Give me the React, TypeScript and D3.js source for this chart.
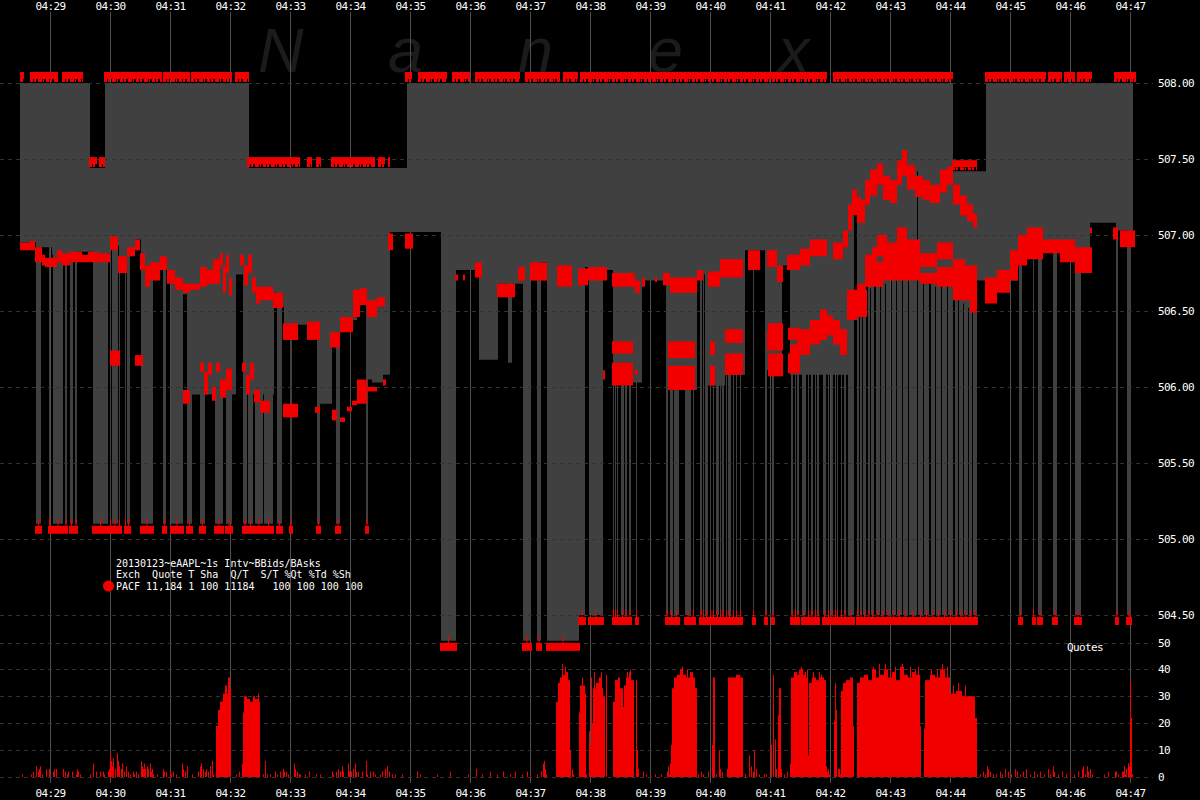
import React from 'react';
import * as d3 from 'd3';

// Time unit: seconds after 04:28:00
const minuteLabels = ['04:29','04:30','04:31','04:32','04:33','04:34','04:35','04:36','04:37','04:38','04:39','04:40','04:41','04:42','04:43','04:44','04:45','04:46','04:47'];
const priceTicks = [508.0, 507.5, 507.0, 506.5, 506.0, 505.5, 505.0, 504.5];
const quoteTicks = [0, 10, 20, 30, 40, 50];

// best ask steps [startSec, price]
const askSteps: [number, number][] = [[30,508.00],[100,507.44],[115,508.00],[259,507.44],[417,508.00],[963,507.42],[996,508.00]];

// best bid (base level) steps [startSec, price]
const bidLine: [number, number][] = [
[30,506.95],[46,506.98],[51,506.92],[62,506.87],[87,506.89],[118,506.88],[120,506.93],[129,506.82],[137,506.89],[145,506.97],[151,506.84],[163,506.77],[170,506.82],[177,506.74],[193,506.61],[197,505.95],[246,506.74],[253,505.95],[284,506.62],[287,506.53],[294,506.41],[330,505.89],[342,506.33],[350,506.38],[360,506.44],[367,506.57],[376,506.05],[382,506.03],[393,506.08],[400,507.02],[466,506.77],[489,506.18],[508,506.68],[518,506.16],[522,506.68],[533,506.79],[551,506.82],[595,506.79],[613,506.77],[623,506.03],[652,506.70],[678,505.98],[707,506.74],[718,506.01],[735,506.08],[755,506.90],[777,506.11],[792,506.80],[800,506.08],[860,504.50],[987,506.70],[1028,507.00],[1050,506.90],[1067,506.93],[1091,506.88],[1100,507.08],[1128,507.03],[1141,507.00]
];

// short bid drops [startSec, endSec, price]
const bidDips: [number, number, number][] = [
[46,51,505.10],[59,60,505.10],[63,73,505.10],[75,77,505.10],[80,83,505.10],[85,87,505.10],[103,118,505.10],[120,121,505.10],[122,128,505.10],[129,130,505.10],[135,136,505.10],[137,140,505.10],[151,163,505.10],[173,176,505.10],[181,193,505.10],[197,202,505.10],[210,215,505.10],[225,233,505.10],[236,242,505.10],[253,257,505.10],[258,263,505.10],[265,273,505.10],[274,283,505.10],[287,292,505.10],[300,302,505.10],[327,330,505.10],[346,350,505.10],[376,378,505.10],
[451,466,504.33],[533,541,504.33],[547,551,504.33],[557,589,504.33],
[589,595,504.50],[599,613,504.50],[623,624,504.50],[625,626,504.50],[627,628,504.50],[631,634,504.50],[635,637,504.50],[639,641,504.50],[646,647,504.50],[676,678,504.50],[680,683,504.50],[684,689,504.50],[695,701,504.50],[703,704,504.50],
[710,712,504.50],[713,714,504.50],[715,718,504.50],[720,721,504.50],[723,724,504.50],[726,729,504.50],[730,731,504.50],[732,734,504.50],[736,737,504.50],[738,741,504.50],[743,744,504.50],[746,747,504.50],[750,751,504.50],[763,764,504.50],[775,777,504.50],[782,784,504.50],[801,803,504.50],[805,806,504.50],[807,809,504.50],[812,816,504.50],[818,819,504.50],[821,823,504.50],[825,826,504.50],[827,829,504.50],[833,836,504.50],[838,839,504.50],[841,843,504.50],[845,846,504.50],[847,848,504.50],[851,852,504.50],[854,856,504.50],[858,860,504.50],
[1029,1032,504.50],[1043,1044,504.50],[1048,1052,504.50],[1063,1067,504.50],[1085,1091,504.50],[1126,1128,504.50],[1137,1141,504.50]
];

// short bid lifts inside deep stretches [startSec, endSec, price]
const bidLifts: [number, number, number][] = [
[864,867,507.18],[869,870,506.55],[872,873,506.60],[876,878,506.70],[880,881,506.65],[884,886,506.70],[890,891,506.72],[895,896,506.68],[900,902,506.75],[906,907,506.70],[912,913,506.75],[918,919,506.70],[927,928,507.42],[933,934,506.70],[939,941,506.68],[945,946,506.66],[951,952,506.70],[957,958,506.68],[963,965,506.60],[968,969,506.60],[973,974,506.55],[978,979,506.52],[982,983,506.50]
];

// PACF ask quote runs [startSec, endSec, price]
const askQuoteRuns: [number, number, number][] = [
[30,34,508],[40,68,508],[72,93,508],[99,107,507.44],[109,115,507.44],[114,172,508],[173,200,508],[201,242,508],[245,259,508],[257,310,507.44],[317,322,507.44],[326,331,507.44],[341,385,507.44],[388,395,507.44],[398,400,507.44],[415,422,508],[428,457,508],[462,480,508],[485,530,508],[535,570,508],[573,588,508],[590,837,508],[843,963,508],[962,987,507.42],[995,1056,508],[1058,1072,508],[1074,1085,508],[1087,1102,508],[1124,1146,508]
];

// PACF bid quote traces [sec, highPrice, lowPrice]; null marks a break
type TP = [number, number | null, number | null];
const traceUpperLeft: TP[] = [
[30,506.95,506.90],[40,506.96,506.90],[45,506.92,506.82],[52,506.87,506.80],[55,506.85,506.79],[67,506.90,506.82],[72,506.88,506.80],[80,506.89,506.82],[92,506.87,506.82],[98,506.89,506.82],[108,506.88,506.82],[120,506.99,506.90],[128,506.86,506.75],[137,506.92,506.86],[145,506.97,506.90],[150,506.88,506.77],[155,506.80,506.66],[160,506.82,506.70],[170,506.86,506.77],[177,506.77,506.68],[185,506.72,506.64],[193,506.68,506.62],[200,506.68,506.64],[210,506.79,506.66],[217,506.77,506.68],[223,506.84,506.68],
[230,506.88,506.80],[233,506.80,506.62],[236,506.87,506.75],[239,506.72,506.60],[242,null,null],
[250,506.87,506.80],[254,506.80,506.67],[258,506.87,506.75],[262,506.72,506.62],[266,506.66,506.55],[270,506.66,506.57],[283,506.62,506.52],[293,506.42,506.31],[308,null,null],[317,506.43,506.31],[330,null,null],[340,506.36,506.26],[350,506.46,506.36],[363,506.64,506.46],[370,506.65,506.54],[377,506.57,506.46],[387,506.59,506.53],[395,null,null],
[398,507.01,506.90],[403,null,null],[415,507.01,506.91],[423,null,null]
];
const traceLowerLeft: TP[] = [
[120,506.24,506.14],[130,null,null],[145,506.21,506.14],[153,null,null],[193,505.98,505.89],[200,null,null],
[210,506.16,506.10],[214,506.10,505.95],[218,506.16,506.08],[222,506.00,505.91],[226,506.16,506.10],[230,506.05,505.93],[236,506.12,505.98],[242,null,null],
[252,506.16,506.10],[256,506.08,505.95],[260,506.16,506.05],[264,505.98,505.90],[270,505.91,505.83],[280,null,null],
[293,505.89,505.80],[308,null,null],[325,505.87,505.83],[330,null,null],[342,505.85,505.78],[347,null,null],[350,505.80,505.77],[355,null,null],[357,505.87,505.84],[362,505.91,505.88],[367,506.05,505.89],[377,506.00,505.97],[387,null,null],[393,506.05,506.01],[396,null,null]
];
const traceUpperMid: TP[] = [
[465,506.74,506.70],[468,null,null],[473,506.74,506.70],[475,null,null],[485,506.82,506.72],[492,null,null],[507,506.68,506.59],[525,null,null],[528,506.79,506.70],[535,null,null],[540,506.82,506.70],[557,null,null],[567,506.80,506.66],[582,null,null],[588,506.78,506.67],[598,506.79,506.70],[617,null,null],[622,506.75,506.66],[645,506.70,506.62],[650,null,null],[652,506.72,506.66],[655,null,null],[665,506.72,506.69],[667,null,null],[673,506.75,506.67],[680,506.72,506.62],[707,506.77,506.70],[713,null,null],[718,506.76,506.66],[730,506.84,506.72],[753,null,null],[758,506.90,506.77],[770,null,null],[777,506.90,506.79],[787,506.80,506.69],[793,null,null],[797,506.87,506.77],[810,506.91,506.80],[820,506.97,506.86],[837,null,null],
[843,506.95,506.84],[853,507.03,506.92],[858,507.20,507.03],[862,507.30,507.13],[867,507.25,507.08],[871,507.23,507.08],[875,507.36,507.20],[880,507.43,507.26],[887,507.47,507.33],[893,507.39,507.23],[900,507.36,507.21],[907,507.49,507.33],[912,507.56,507.39],[917,507.46,507.30],[925,507.39,507.25],[933,507.36,507.23],[940,507.33,507.21],[950,507.43,507.28],[957,507.45,507.33],[963,507.33,507.20],[970,507.26,507.13],[977,507.20,507.09],[983,507.14,507.05],[987,null,null]
];
const traceMidRight: TP[] = [
[857,506.64,506.49],[867,506.68,506.46],[875,506.87,506.66],[882,506.92,506.77],[887,507.00,506.86],[897,506.95,506.75],[907,507.05,506.86],[917,506.97,506.84],[930,506.88,506.79],[947,506.95,506.84],[963,506.84,506.66],[975,506.80,506.64],[987,null,null]
];
const traceLowRight: TP[] = [
[777,506.36,506.24],[793,null,null],[800,506.28,506.11],[807,506.38,506.21],[820,506.44,506.28],[830,506.51,506.31],[837,506.47,506.34],[843,506.44,506.28],[850,506.38,506.21],[857,506.57,506.44],[867,506.64,506.46],[877,506.82,506.66],[893,506.90,506.70],[917,506.87,506.70],[930,506.75,506.68],[947,506.79,506.66],[963,506.75,506.57],[980,506.67,506.49],[987,null,null]
];
const traceLower1: TP[] = [
[622,506.30,506.22],[643,null,null],[678,506.30,506.19],[705,null,null],[720,506.30,506.21],[725,null,null],[735,506.38,506.29],[753,null,null],[778,506.42,506.26],[793,null,null],[798,506.39,506.31],[810,null,null]
];
const traceLower2: TP[] = [
[613,506.11,506.05],[615,null,null],[622,506.16,506.01],[643,null,null],[645,506.11,506.08],[648,null,null],[678,506.14,505.98],[705,null,null],[720,506.14,506.01],[725,null,null],[735,506.22,506.08],[753,null,null],[778,506.22,506.07],[793,null,null],[798,506.22,506.09],[810,null,null]
];
const traceRight: TP[] = [
[970,506.75,506.59],[987,null,null],[995,506.72,506.55],[1007,506.77,506.62],[1020,506.90,506.70],[1028,507.00,506.80],[1037,507.05,506.84],[1053,506.97,506.88],[1070,506.97,506.82],[1085,506.92,506.75],[1102,null,null],[1100,507.05,507.01],[1102,null,null],[1123,507.05,506.97],[1128,null,null],[1130,507.03,506.92],[1145,null,null]
];

// quote count per second: runs [startSec, endSec, count] and single seconds [sec, count]
const quoteBursts: [number, number, number][] = [
[226,228,19],[228,230,25],[230,233,28],[233,235,31],[235,237,34],[237,238,31],[238,240,37],[240,241,33],
[252,253,5],[253,254,24],[254,257,30],[257,260,29],[260,263,28],[263,265,30],[265,268,29],[268,269,31],[269,270,28],
[566,568,28],[568,570,35],[570,572,37],[572,573,41],[573,576,38],[576,578,39],[578,580,36],[580,581,10],
[589,590,24],[590,592,34],[592,593,37],[593,595,34],[595,596,31],
[599,600,17],[600,601,12],[601,602,37],[602,603,20],[603,606,33],[606,609,35],[609,612,37],[612,613,33],[613,615,30],
[623,625,28],[625,628,36],[628,630,37],[630,633,33],[633,634,26],[634,636,34],[636,639,37],[639,641,39],[641,644,36],
[646,647,36],
[680,681,5],[681,682,12],[682,684,33],[684,687,37],[687,690,38],[690,693,40],[693,696,38],[696,700,37],[700,703,39],[703,705,37],[705,707,33],
[722,723,12],[723,725,37],
[737,738,3],[738,742,37],[742,746,37],[746,750,38],[750,753,37],
[800,801,5],[801,804,37],[804,807,39],[807,810,38],[810,813,40],[813,816,38],[816,818,37],[818,819,8],[819,822,35],[822,826,37],[826,830,36],[830,834,37],[834,836,36],[836,837,4],
[844,845,21],[845,846,35],[846,847,25],[851,853,32],[853,856,35],[856,860,36],[860,863,37],[863,864,19],
[867,870,35],[870,874,37],[874,878,38],[878,882,36],[882,886,40],[886,890,37],[890,894,38],[894,898,40],[898,902,37],[902,906,39],[906,910,36],[910,914,41],[914,918,38],[918,922,37],[922,926,39],[926,930,38],[930,931,19],
[934,935,18],[935,940,36],[940,945,38],[945,950,37],[950,955,40],[955,960,37],[960,966,31],[966,972,32],[972,979,30],[979,985,30],[985,987,22]
];
const quoteSingles: [number, number][] = [
[32,1],[41,1],[43,2],[46,4],[48,2],[49,3],[50,4],[52,1],[56,3],[59,3],[63,2],[64,3],[66,3],[73,3],[75,2],[77,1],[78,2],[82,2],[86,1],[87,3],[88,2],[90,1],[100,1],[103,5],[106,2],[110,2],[113,2],[114,1],[118,2],[119,3],[120,9],[121,6],[122,4],[123,7],[125,3],[127,9],[128,6],[129,4],[131,3],[132,5],[134,2],[136,4],[138,2],[140,1],[143,2],[144,1],[146,2],[148,1],[151,6],[152,4],[153,3],[154,5],[155,3],[157,4],[158,3],[160,5],[161,2],[162,3],[163,1],[167,1],[173,3],[174,2],[176,2],[180,2],[181,1],[183,2],[186,1],[192,5],[193,3],[195,2],[197,4],[202,1],[208,2],[210,4],[211,5],[213,3],[215,2],[216,3],[218,2],[220,4],[222,6],[223,1],[246,1],[249,2],
[273,1],[275,6],[277,1],[280,1],[285,2],[287,1],[290,2],[293,3],[294,2],[296,2],[298,1],[304,5],[305,3],[307,2],[309,1],[310,1],[315,1],[319,2],[326,1],[330,1],[342,2],[343,1],[346,2],[348,3],[350,2],[352,4],[353,2],[358,5],[359,2],[361,2],[363,3],[365,5],[366,2],[368,2],[372,2],[376,6],[377,1],[380,2],[383,2],[385,1],[390,1],[392,2],[395,3],[397,4],[399,2],[402,1],
[405,1],[412,1],[427,2],[430,1],[447,1],[460,2],[478,1],[486,3],[492,1],[500,2],[507,1],[513,2],[520,1],[525,2],[532,1],[537,2],[540,1],[547,1],[551,2],[553,5],[554,6],[555,3],[556,1],[582,3],[583,1],[596,1],
[572,42],[575,41],[604,39],[611,39],[616,38],[637,39],[640,40],[647,10],[648,3],[653,2],[656,1],[665,1],[671,1],[677,2],[678,4],[679,1],[692,41],[697,40],[708,1],[711,2],[713,1],[718,2],[726,1],[729,10],[730,3],[732,2],[755,1],[759,8],[761,4],[763,2],[764,10],[766,3],[769,1],[774,1],[776,1],[781,12],[783,38],[785,14],[786,3],[788,23],[789,33],[790,33],[791,3],[794,1],[797,2],
[809,40],[811,41],[815,39],[817,40],[823,39],[829,39],[831,38],[837,2],[838,3],[839,1],[846,24],[848,3],[849,3],[850,1],
[883,41],[889,42],[895,42],[900,40],[905,41],[912,42],[920,41],[925,40],[928,41],[941,40],[947,40],[952,42],[957,41],[963,34],[968,35],[975,34],
[990,1],[993,2],[995,1],[997,4],[998,3],[1000,2],[1003,1],[1006,1],[1010,2],[1012,1],[1015,3],[1018,2],[1021,1],[1025,3],[1027,2],[1030,1],[1033,2],[1036,3],[1040,1],[1044,2],[1047,1],[1050,2],[1054,1],[1058,3],[1060,1],[1063,4],[1064,2],[1068,1],[1072,2],[1076,1],[1080,2],[1084,1],[1088,2],[1092,3],[1093,4],[1095,1],[1097,4],[1098,2],[1100,3],[1102,1],[1114,1],[1118,2],[1125,2],[1126,2],[1128,1],[1132,2],[1133,2],[1134,4],[1135,1],[1136,3],[1138,5],[1139,4],[1140,36],[1141,22],[1142,1]
];

const legendLines = [
  '20130123~eAAPL~1s Intv~BBids/BAsks',
  'Exch  Quote T Sha  Q/T  S/T %Qt %Td %Sh',
  'PACF 11,184 1 100 11184   100 100 100 100',
];
const watermark = ['N', 'a', 'n', 'e', 'x'];

const RED = '#f20000';
const GRAY = '#404040';
const MONO = '"DejaVu Sans Mono", "Liberation Mono", monospace';

function stepAt(steps: [number, number][], s: number) {
  let v = steps[0][1];
  for (const st of steps) { if (st[0] <= s) v = st[1]; else break; }
  return v;
}

function segmentsOf(trace: TP[]) {
  const segs: [number, number, number][][] = [];
  let cur: [number, number, number][] = [];
  for (const d of trace) {
    if (d[1] == null) {
      if (cur.length) { const l = cur[cur.length - 1]; cur.push([d[0], l[1], l[2]]); segs.push(cur); cur = []; }
    } else cur.push([d[0], d[1] as number, d[2] as number]);
  }
  if (cur.length) { const l = cur[cur.length - 1]; cur.push([l[0] + 3, l[1], l[2]]); segs.push(cur); }
  return segs;
}

export default function App() {
  const x = d3.scaleLinear().domain([30, 1143]).range([20, 1133]);
  const y = d3.scaleLinear().domain([504.5, 508]).range([615, 83]);
  const yq = d3.scaleLinear().domain([0, 50]).range([777, 642.5]);

  const bidAt = (s: number) => {
    for (const d of bidLifts) if (s >= d[0] && s < d[1]) return d[2];
    for (const d of bidDips) if (s >= d[0] && s < d[1]) return d[2];
    return stepAt(bidLine, s);
  };
  const band = d3.range(30, 1143).map(s => ({ s, ask: stepAt(askSteps, s), bid: bidAt(s) }));
  band.push({ ...band[band.length - 1], s: 1143 });
  const bandArea = d3.area<any>().x(d => x(d.s)).y0(d => y(d.bid)).y1(d => y(d.ask)).curve(d3.curveStepAfter);

  // runs of seconds where the bid sits at a deep level -> PACF bid marks
  const deepRuns: { s0: number; s1: number; p: number }[] = [];
  band.slice(0, -1).forEach(d => {
    if (d.bid <= 505.2) {
      const last = deepRuns[deepRuns.length - 1];
      if (last && last.s1 === d.s && last.p === d.bid) last.s1 = d.s + 1;
      else deepRuns.push({ s0: d.s, s1: d.s + 1, p: d.bid });
    }
  });

  const traceArea = d3.area<[number, number, number]>().x(d => x(d[0]))
    .y0(d => Math.max(y(d[2]), y(d[1]) + 4)).y1(d => y(d[1])).curve(d3.curveStepAfter);
  const traces = [traceUpperLeft, traceLowerLeft, traceUpperMid, traceMidRight, traceLowRight, traceLower1, traceLower2, traceRight];

  const minutes = minuteLabels.map((m, i) => ({ m, s: 60 + i * 60 }));
  const txt = { fontFamily: MONO, fontSize: 11, letterSpacing: -0.6, fill: '#fff' } as any;
  const legendTxt = { fontFamily: MONO, fontSize: 10, fill: '#fff' } as any;

  return (
    <svg width={1200} height={800} style={{ position: 'fixed', left: 0, top: 0, display: 'block', background: '#000' }}>
      <rect x={0} y={0} width={1200} height={800} fill="#000" />
      {watermark.map((c, i) => (
        <text key={c + i} x={258 + i * 130} y={72} fontFamily='"Liberation Sans", Arial, sans-serif' fontStyle="italic" fontSize={63} fill="#1b1b1b">{c}</text>
      ))}
      {minutes.map(d => (
        <line key={'v' + d.m} x1={x(d.s) + 0.5} x2={x(d.s) + 0.5} y1={12} y2={783} stroke="#505050" strokeWidth={1} />
      ))}
      <path d={bandArea(band) || ''} fill={GRAY} />
      {priceTicks.map(p => (
        <line key={'h' + p} x1={0} x2={1153} y1={Math.round(y(p)) + 0.5} y2={Math.round(y(p)) + 0.5} stroke="#333" strokeDasharray="4 4" />
      ))}
      {quoteTicks.map(q => (
        <line key={'hq' + q} x1={0} x2={1153} y1={Math.round(yq(q)) + 0.5} y2={Math.round(yq(q)) + 0.5} stroke="#333" strokeDasharray="4 4" />
      ))}
      {/* ask quote marks */}
      {askQuoteRuns.map((r, i) => (
        <g key={'aq' + i}>
          <rect x={x(r[0])} y={y(r[2]) - 11} width={x(r[1]) - x(r[0])} height={7} fill={RED} />
          <line x1={x(r[0])} x2={x(r[1])} y1={y(r[2]) - 2.5} y2={y(r[2]) - 2.5} stroke={RED} strokeWidth={3} strokeDasharray="3 1 2 2 4 1 1 2" />
        </g>
      ))}
      {/* bid quote traces */}
      {traces.map((t, i) => segmentsOf(t).map((seg, j) => (
        <path key={'t' + i + '_' + j} d={traceArea(seg) || ''} fill={RED} />
      )))}
      {/* deep bid quote marks */}
      {deepRuns.map((d, i) => (
        <g key={'dm' + i}>
          <rect x={x(d.s0) - 1} y={y(d.p) + 2} width={Math.max(x(d.s1) - x(d.s0) + 2, 4)} height={8} fill={RED} />
          <line x1={(x(d.s0) + x(d.s1)) / 2} x2={(x(d.s0) + x(d.s1)) / 2} y1={y(d.p) - 5} y2={y(d.p) + 2} stroke={RED} strokeWidth={1} />
        </g>
      ))}
      {/* quote count histogram */}
      {quoteBursts.map((b, i) => (
        <rect key={'qb' + i} x={x(b[0])} y={yq(b[2])} width={x(b[1]) - x(b[0])} height={yq(0) - yq(b[2])} fill={RED} />
      ))}
      {quoteSingles.map((b, i) => (
        <rect key={'qs' + i} x={x(b[0])} y={yq(b[1])} width={1} height={yq(0) - yq(b[1])} fill={RED} />
      ))}
      {/* axes text */}
      {minutes.map(d => (
        <g key={'tl' + d.m} {...txt} textAnchor="middle">
          <text x={x(d.s) + 0.5} y={10}>{d.m}</text>
          <text x={x(d.s) + 0.5} y={797}>{d.m}</text>
        </g>
      ))}
      {priceTicks.map(p => (
        <text key={'pl' + p} x={1158} y={y(p) + 4} {...txt}>{p.toFixed(2)}</text>
      ))}
      {quoteTicks.map(q => (
        <text key={'ql' + q} x={1158} y={yq(q) + 4} {...txt}>{q}</text>
      ))}
      <text x={1067} y={651} {...txt}>Quotes</text>
      {legendLines.map((t, i) => (
        <text key={'lg' + i} x={116} y={566.5 + i * 11.5} {...legendTxt} xmlSpace="preserve" style={{ whiteSpace: 'pre' }}>{t}</text>
      ))}
      <circle cx={108.5} cy={586} r={5.5} fill={RED} />
    </svg>
  );
}
